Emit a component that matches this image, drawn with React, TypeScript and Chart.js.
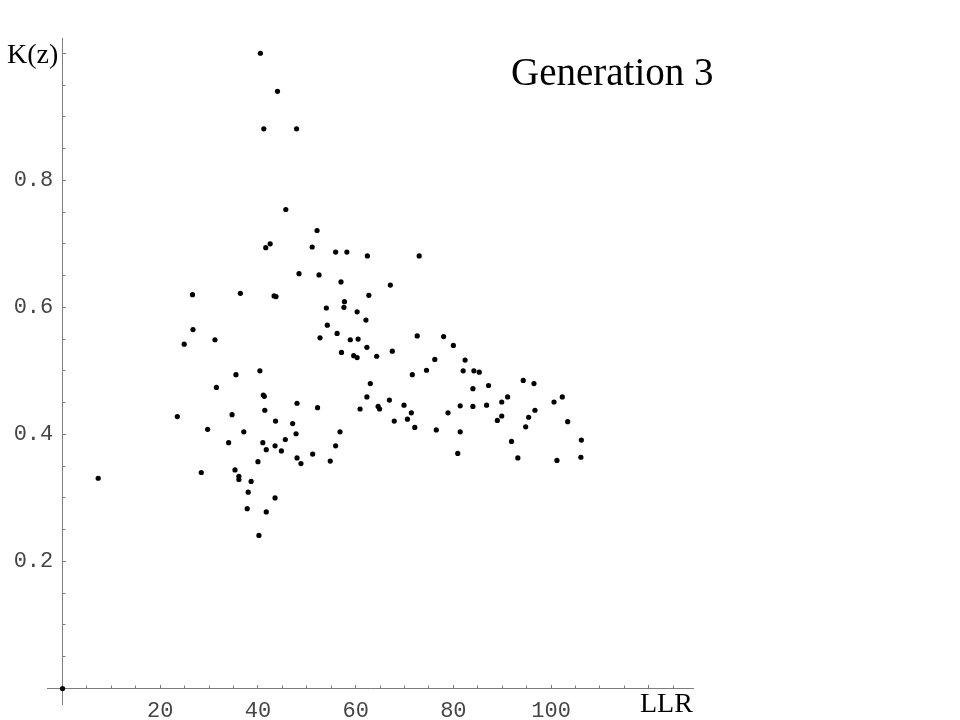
import React, { useEffect, useRef } from "react";
import { Chart, registerables } from "chart.js";

Chart.register(...registerables);

// ---- data (LLR vs K(z), generation 3) ----
const llr = [
  0, 7.3, 23.5, 24.9, 26.6, 26.7, 28.4, 29.7, 31.2, 31.5,
  34.0, 34.7, 35.3, 35.5, 36.1, 36.1, 36.4, 37.1, 37.8, 38.0,
  38.6, 40.0, 40.2, 40.4, 40.5, 41.0, 41.1, 41.3, 41.2, 41.4,
  41.6, 41.7, 41.7, 42.5, 43.3, 43.7, 43.5, 43.5, 43.6, 44.0,
  44.8, 45.6, 45.7, 47.1, 47.8, 47.9, 48.0, 48.0, 48.4, 48.8,
  51.1, 51.2, 52.1, 52.2, 52.5, 52.7, 54.0, 54.2, 54.8, 55.9,
  55.9, 56.2, 56.8, 57.0, 57.1, 57.6, 57.7, 58.2, 58.9, 59.6,
  60.3, 60.3, 60.5, 60.9, 62.1, 62.3, 62.3, 62.4, 62.7, 63.0,
  64.3, 64.6, 64.9, 66.9, 67.1, 67.5, 67.9, 69.9, 70.6, 71.4,
  71.6, 72.1, 72.6, 73.0, 74.5, 76.2, 76.5, 78.0, 78.9, 80.0,
  80.9, 81.4, 81.4, 82.0, 82.4, 84.0, 84.0, 84.2, 85.3, 86.8,
  87.2, 89.0, 89.9, 89.9, 91.1, 91.9, 93.2, 94.3, 94.8, 95.4,
  96.5, 96.7, 100.6, 101.2, 102.3, 103.4, 106.1, 106.2,
];
const kz = [
  0, 0.331, 0.428, 0.542, 0.620, 0.565, 0.340, 0.408, 0.549, 0.474,
  0.387, 0.431, 0.344, 0.494, 0.334, 0.329, 0.622, 0.404, 0.283, 0.309,
  0.326, 0.357, 0.241, 0.500, 1.000, 0.387, 0.462, 0.460, 0.881, 0.438,
  0.694, 0.376, 0.278, 0.700, 0.618, 0.617, 0.382, 0.300, 0.421, 0.940,
  0.374, 0.392, 0.754, 0.417, 0.401, 0.881, 0.449, 0.363, 0.653, 0.354,
  0.695, 0.369, 0.721, 0.442, 0.651, 0.552, 0.599, 0.572, 0.358, 0.687,
  0.382, 0.559, 0.404, 0.640, 0.529, 0.600, 0.609, 0.687, 0.549, 0.524,
  0.593, 0.521, 0.550, 0.440, 0.580, 0.537, 0.459, 0.681, 0.619, 0.480,
  0.523, 0.444, 0.440, 0.454, 0.635, 0.531, 0.421, 0.446, 0.424, 0.434,
  0.494, 0.411, 0.555, 0.681, 0.501, 0.518, 0.407, 0.554, 0.434, 0.540,
  0.370, 0.445, 0.404, 0.500, 0.517, 0.472, 0.444, 0.500, 0.498, 0.446,
  0.477, 0.422, 0.451, 0.429, 0.459, 0.389, 0.363, 0.485, 0.412, 0.427,
  0.480, 0.438, 0.451, 0.359, 0.459, 0.420, 0.364, 0.391,
];

const xRange = [-3.18, 129.05];
const yRange = [-0.0244, 1.024];
const xMajorStep = 20;
const xMinorStep = 5;
const yMajorStep = 0.2;
const yMinorStep = 0.05;
const xTickValues = [20, 40, 60, 80, 100];
const xTickLabels = ["20", "40", "60", "80", "100"];
const yTickValues = [0.2, 0.4, 0.6, 0.8];
const yTickLabels = ["0.2", "0.4", "0.6", "0.8"];
const xAxisTitle = "LLR";
const yAxisTitle = "K(z)";
const chartTitle = "Generation 3";

const axisGray = "#7c7c7c";
const labelGray = "#444444";
const monoFont = { family: "'Liberation Mono', 'Courier New', monospace", size: 22 };
const serif = "'Liberation Serif', 'Times New Roman', serif";

const labelFor = (values: number[], labels: string[]) => (v: any) => {
  const n = Number(v);
  const i = values.findIndex((t) => Math.abs(t - n) < 1e-6);
  return i >= 0 ? labels[i] : "";
};

export default function App() {
  const canvasRef = useRef<HTMLCanvasElement | null>(null);

  useEffect(() => {
    const canvas = canvasRef.current;
    if (!canvas) return;
    const points = llr.map((x, i) => ({ x, y: kz[i] }));
    const chart = new Chart(canvas, {
      type: "scatter",
      data: {
        datasets: [
          {
            data: points,
            xAxisID: "x",
            yAxisID: "y",
            pointRadius: 2.6,
            pointBorderWidth: 0,
            pointBackgroundColor: "#000000",
            pointBorderColor: "#000000",
            showLine: false,
          },
        ],
      },
      options: {
        responsive: false,
        animation: false,
        events: [],
        layout: { padding: { left: 47, right: 267, top: 38, bottom: 16 } },
        plugins: { legend: { display: false }, tooltip: { enabled: false }, title: { display: false } },
        scales: {
          x: {
            type: "linear",
            axis: "x",
            position: { y: 0 },
            min: xRange[0],
            max: xRange[1],
            grid: { display: true, drawOnChartArea: false, drawTicks: true, tickLength: -4, tickColor: axisGray, tickWidth: 1 },
            border: { display: true, color: axisGray, width: 1 },
            ticks: {
              stepSize: xMajorStep,
              includeBounds: false,
              autoSkip: false,
              maxRotation: 0,
              minRotation: 0,
              padding: 13,
              color: labelGray,
              font: monoFont,
              callback: labelFor(xTickValues, xTickLabels),
            },
          },
          x2: {
            type: "linear",
            axis: "x",
            position: { y: 0 },
            min: xRange[0],
            max: xRange[1],
            grid: { display: true, drawOnChartArea: false, drawTicks: true, tickLength: -2.5, tickColor: axisGray, tickWidth: 1 },
            border: { display: false },
            ticks: { stepSize: xMinorStep, includeBounds: false, autoSkip: false, maxRotation: 0, font: monoFont, callback: () => "" },
          },
          y: {
            type: "linear",
            axis: "y",
            position: { x: 0 },
            min: yRange[0],
            max: yRange[1],
            grid: { display: true, drawOnChartArea: false, drawTicks: true, tickLength: -4, tickColor: axisGray, tickWidth: 1 },
            border: { display: true, color: axisGray, width: 1 },
            ticks: { stepSize: yMajorStep, includeBounds: false, autoSkip: false, padding: 0, font: monoFont, callback: () => "" },
          },
          y2: {
            type: "linear",
            axis: "y",
            position: { x: 0 },
            min: yRange[0],
            max: yRange[1],
            grid: { display: true, drawOnChartArea: false, drawTicks: true, tickLength: -2.5, tickColor: axisGray, tickWidth: 1 },
            border: { display: false },
            ticks: { stepSize: yMinorStep, includeBounds: false, autoSkip: false, padding: 0, font: monoFont, callback: () => "" },
          },
          yL: {
            type: "linear",
            axis: "y",
            position: { x: -1.9 },
            min: yRange[0],
            max: yRange[1],
            grid: { display: false },
            border: { display: false },
            ticks: {
              stepSize: yMajorStep,
              includeBounds: false,
              autoSkip: false,
              padding: 0,
              color: labelGray,
              font: monoFont,
              callback: labelFor(yTickValues, yTickLabels),
            },
          },
        },
      },
    } as any);
    return () => chart.destroy();
  }, []);

  return (
    <div style={{ position: "fixed", left: 0, top: 0, width: 960, height: 720, background: "#ffffff", overflow: "hidden" }}>
      <canvas ref={canvasRef} width={960} height={720} style={{ display: "block", width: 960, height: 720 }} />
      <div style={{ position: "absolute", left: 7, top: 40, fontFamily: serif, fontSize: 28, lineHeight: 1, color: "#000", whiteSpace: "nowrap" }}>
        {yAxisTitle}
      </div>
      <div style={{ position: "absolute", left: 640, top: 689, fontFamily: serif, fontSize: 28, lineHeight: 1, color: "#000", whiteSpace: "nowrap" }}>
        {xAxisTitle}
      </div>
      <div style={{ position: "absolute", left: 511, top: 52, fontFamily: serif, fontSize: 39, lineHeight: 1, color: "#000", whiteSpace: "nowrap" }}>
        {chartTitle}
      </div>
    </div>
  );
}
